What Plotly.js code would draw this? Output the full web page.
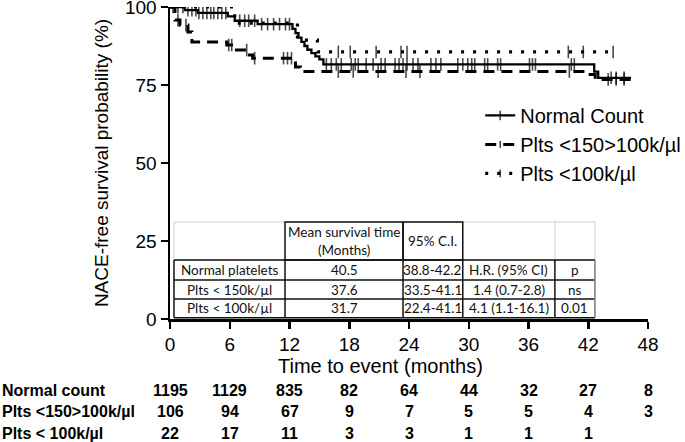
<!DOCTYPE html>
<html>
<head>
<meta charset="utf-8">
<script src="https://cdn.plot.ly/plotly-3.0.1.min.js"></script>
<style>html,body{margin:0;padding:0;background:#fff;}#chart{width:685px;height:442px;}</style>
</head>
<body>
<div id="chart"></div>
<script>
// ---- Kaplan-Meier step data (months, % survival) ----
var normalTimes = [0, 1.5, 2.8, 5.8, 6.5, 8.8, 12.3, 12.6, 12.9, 13.2, 13.5, 13.8, 14.2, 14.6, 15.0, 15.4, 42.6, 43.0];
var normalSurv  = [100, 99.0, 98.1, 97.0, 95.6, 94.5, 93.0, 91.6, 90.2, 88.8, 87.5, 86.3, 85.2, 84.2, 83.2, 81.6, 79.3, 77.3];
var normalEnd = 46.3;
var normalCensor = [0.3, 0.8, 1.3, 1.8, 2.2, 2.6, 2.9, 3.3, 3.7, 4.1, 4.4, 4.8, 5.2, 5.6, 7.0, 7.5, 7.9, 8.5, 9.2, 9.8, 10.4, 11.0, 11.6, 12.0,
  15.7, 16.2, 16.7, 17.2, 18.2, 18.6, 18.9, 19.7, 20.4, 21.2, 21.6, 22.6, 23.0, 23.4, 23.8, 24.4, 24.9, 26.2, 26.7, 27.2,
  28.9, 29.4, 29.9, 30.3, 30.6, 31.6, 31.9, 32.9, 33.2, 36.1, 36.4, 36.7, 40.3, 40.6, 44.3, 44.8, 45.6];

var midTimes = [0, 0.5, 1.0, 1.8, 2.2, 5.7, 6.5, 7.8, 8.3, 12.6, 13.1, 41.8, 42.7];
var midSurv  = [100, 95.8, 94.2, 92.0, 88.8, 87.8, 86.2, 84.6, 83.6, 80.8, 79.3, 78.4, 76.8];
var midEnd = 46.3;
var midCensor = [0.8, 1.6, 5.9, 6.2, 7.7, 8.5, 11.4, 11.8, 12.2, 16.9, 18.4, 20.9, 23.7, 25.1, 40.1, 44.0, 44.8, 45.6];

var lowTimes = [0, 6.5, 12.8, 14.8];
var lowSurv  = [100, 94.8, 89.4, 85.6];
var lowEnd = 44.5;
var lowCensor = [16.9, 18.1, 20.7, 23.2, 23.8, 40.0, 41.5, 44.5];

var seriesNames = ["Normal Count", "Plts <150>100k/µl", "Plts <100k/µl"];

// ---- numbers at risk ----
var riskTimes = [0, 6, 12, 18, 24, 30, 36, 42, 48];
var riskNormal = [1195, 1129, 835, 82, 64, 44, 32, 27, 8];
var riskMid = [106, 94, 67, 9, 7, 5, 5, 4, 3];
var riskLow = [22, 17, 11, 3, 3, 1, 1, 1];
var riskLabels = ["Normal count", "Plts <150>100k/µl", "Plts < 100k/µl"];

// ---- inset table ----
var tableHeader = ["", "Mean survival time<br>(Months)", "95% C.I.", "", ""];
var tableRows = [
  ["Normal platelets", "40.5", "38.8-42.2", "H.R. (95% CI)", "p"],
  ["Plts < 150k/µl", "37.6", "33.5-41.1", "1.4 (0.7-2.8)", "ns"],
  ["Plts < 100k/µl", "31.7", "22.4-41.1", "4.1 (1.1-16.1)", "0.01"]
];

var xTicks = [0, 6, 12, 18, 24, 30, 36, 42, 48];
var yTicks = [0, 25, 50, 75, 100];
var xTitle = 'Time to event (months)';
var yTitle = 'NACE-free survival probability (%)';

// ---- build KM traces ----
function survAt(times, surv, t) {
  var v = surv[0];
  for (var i = 0; i < times.length; i++) { if (times[i] <= t) v = surv[i]; }
  return v;
}
function kmTrace(times, surv, endT, censor, name, dash, width) {
  var pts = [];
  for (var i = 0; i < times.length; i++) pts.push({x: times[i], y: surv[i], s: 0, o: 0});
  pts.push({x: endT, y: surv[surv.length - 1], s: 0, o: 2});
  for (var j = 0; j < censor.length; j++) pts.push({x: censor[j], y: survAt(times, surv, censor[j]), s: 9, o: 1});
  pts.sort(function (a, b) { return a.x - b.x || a.o - b.o; });
  return {
    type: 'scatter', mode: 'lines+markers', name: name,
    x: pts.map(function (p) { return p.x; }),
    y: pts.map(function (p) { return p.y; }),
    line: {shape: 'hv', color: '#000', width: width, dash: dash},
    marker: {symbol: 'line-ns', size: pts.map(function (p) { return p.s; }), color: '#000', line: {color: '#000', width: 1.6}},
    legendgroup: name, hoverinfo: 'skip'
  };
}

var traces = [
  kmTrace(normalTimes, normalSurv, normalEnd, normalCensor, seriesNames[0], 'solid', 2.3),
  kmTrace(midTimes, midSurv, midEnd, midCensor, seriesNames[1], '11px,7px', 3),
  kmTrace(lowTimes, lowSurv, lowEnd, lowCensor, seriesNames[2], '3px,9px', 3.2)
];

// ---- table geometry (layout) ----
var colB = [0.4, 11.55, 23.4, 29.4, 38.65, 42.67];
var rowB = [31.1, 18.9, 12.5, 6.4, 0.4];
var dark = '#111', light = '#cfcfcf';
var shapes = [];
shapes.push({type: 'rect', xref: 'x', yref: 'y', x0: colB[0], x1: colB[5], y0: rowB[4], y1: rowB[0], fillcolor: '#fff', line: {width: 0}, layer: 'below'});
shapes.push({type: 'rect', xref: 'x', yref: 'y', x0: colB[0], x1: colB[5], y0: rowB[1], y1: rowB[0], line: {color: light, width: 1}, layer: 'below'});
shapes.push({type: 'line', xref: 'x', yref: 'y', x0: colB[4], x1: colB[4], y0: rowB[1], y1: rowB[0], line: {color: light, width: 1}, layer: 'below'});
shapes.push({type: 'rect', xref: 'x', yref: 'y', x0: colB[1], x1: colB[2], y0: rowB[1], y1: rowB[0], line: {color: dark, width: 1.5}, layer: 'below'});
shapes.push({type: 'rect', xref: 'x', yref: 'y', x0: colB[2], x1: colB[3], y0: rowB[1], y1: rowB[0], line: {color: dark, width: 1.5}, layer: 'below'});
for (var r = 1; r < rowB.length; r++) {
  shapes.push({type: 'line', xref: 'x', yref: 'y', x0: colB[0], x1: colB[5], y0: rowB[r], y1: rowB[r], line: {color: dark, width: 1.5}, layer: 'below'});
}
for (var c = 0; c < colB.length; c++) {
  shapes.push({type: 'line', xref: 'x', yref: 'y', x0: colB[c], x1: colB[c], y0: rowB[4], y1: rowB[1], line: {color: c === 5 ? '#777' : dark, width: 1.5}, layer: 'below'});
}

var annotations = [];
var tFont = {family: 'Lato, "Open Sans", sans-serif', size: 13.5, color: '#111'};
for (var h = 0; h < tableHeader.length; h++) {
  if (!tableHeader[h]) continue;
  annotations.push({xref: 'x', yref: 'y', x: (colB[h] + colB[h + 1]) / 2, y: (rowB[0] + rowB[1]) / 2, text: tableHeader[h],
    showarrow: false, font: tFont, xanchor: 'center', yanchor: 'middle'});
}
for (var rr = 0; rr < tableRows.length; rr++) {
  for (var cc = 0; cc < tableRows[rr].length; cc++) {
    annotations.push({xref: 'x', yref: 'y', x: (colB[cc] + colB[cc + 1]) / 2, y: (rowB[rr + 1] + rowB[rr + 2]) / 2, text: tableRows[rr][cc],
      showarrow: false, font: tFont, xanchor: 'center', yanchor: 'middle'});
  }
}

// ---- numbers at risk annotations ----
var rFont = {family: '"Liberation Sans Narrow", "Arial Narrow", "Liberation Sans", Arial, sans-serif', size: 16, color: '#000', weight: 'bold'};
var riskRows = [riskNormal, riskMid, riskLow];
var riskY = [-0.228, -0.297, -0.366];
for (var k = 0; k < riskRows.length; k++) {
  annotations.push({xref: 'paper', yref: 'paper', x: -0.356, y: riskY[k], text: '<b>' + riskLabels[k] + '</b>', showarrow: false,
    xanchor: 'left', yanchor: 'middle', font: rFont});
  for (var m = 0; m < riskRows[k].length; m++) {
    annotations.push({xref: 'x', yref: 'paper', x: riskTimes[m], y: riskY[k], text: '<b>' + riskRows[k][m] + '</b>', showarrow: false,
      xanchor: 'center', yanchor: 'middle', font: rFont});
  }
}

// x-axis title (placed like the original, slightly left of centre)
annotations.push({xref: 'paper', yref: 'paper', x: 0.44, y: -0.15, text: xTitle, showarrow: false,
  xanchor: 'center', yanchor: 'middle', font: {size: 20, color: '#000'}});

var layout = {
  width: 685, height: 442,
  margin: {l: 170, r: 37, t: 7, b: 123, autoexpand: false},
  paper_bgcolor: '#fff', plot_bgcolor: '#fff',
  font: {family: '"Liberation Sans", Arial, sans-serif', color: '#000', size: 18},
  showlegend: true,
  legend: {x: 0.649, y: 0.715, xanchor: 'left', yanchor: 'top', bgcolor: 'rgba(0,0,0,0)', font: {size: 20}, tracegroupgap: 0},
  xaxis: {range: [0, 48], tickvals: xTicks, ticktext: xTicks.map(String), showgrid: false, zeroline: false, automargin: false,
    showline: true, linecolor: '#000', linewidth: 2.5, ticks: 'outside', ticklen: 7, tickwidth: 2.5, tickcolor: '#000',
    tickfont: {size: 19}, ticklabeloverflow: 'allow'},
  yaxis: {range: [0, 100], tickvals: yTicks, ticktext: yTicks.map(String), showgrid: false, zeroline: false, automargin: false,
    showline: true, linecolor: '#000', linewidth: 2.5, ticks: 'outside', ticklen: 7, tickwidth: 2.5, tickcolor: '#000',
    tickfont: {size: 19}, ticklabeloverflow: 'allow',
    title: {text: yTitle, font: {size: 19}, standoff: 12}},
  shapes: shapes,
  annotations: annotations
};

Plotly.newPlot('chart', traces, layout, {staticPlot: true, displayModeBar: false});
</script>
</body>
</html>
